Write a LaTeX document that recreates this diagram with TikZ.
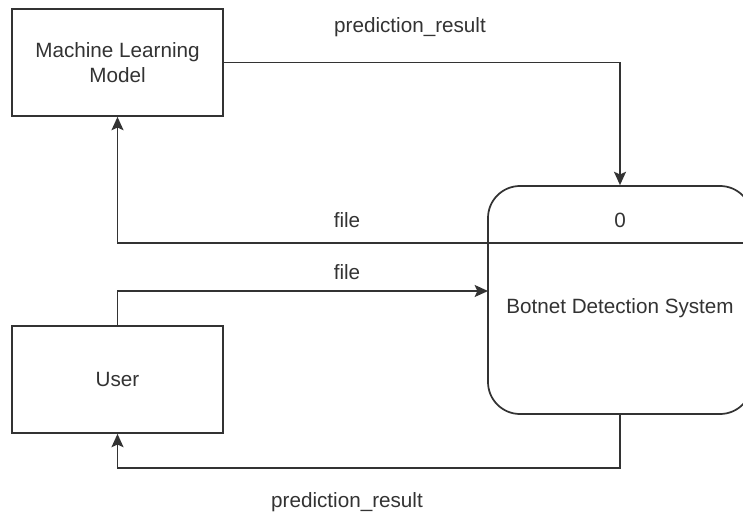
\documentclass[tikz,border=0pt]{standalone}
\usepackage{fontspec}
\setmainfont{Liberation Sans}
\usetikzlibrary{arrows.meta}
\definecolor{ink}{HTML}{333333}
\tikzset{
  entity/.style={draw=ink, line width=1.3pt, fill=white, minimum width=158.25pt, minimum height=80.25pt, inner sep=0pt},
  process/.style={draw=ink, line width=1.3pt, fill=white, rounded corners=24pt, minimum width=198pt, minimum height=171pt, inner sep=0pt},
  txt/.style={text=ink, font=\fontsize{15.5}{19}\selectfont, inner sep=0pt, align=center},
  flow/.style={draw=ink, line width=1.3pt, -{Stealth[length=10pt,width=9pt,inset=2pt]}},
  wire/.style={draw=ink, line width=1.3pt}
}
\begin{document}
\begin{tikzpicture}[x=0.75pt, y=-0.75pt]
  \useasboundingbox (0,0) rectangle (743,518);
  \clip (0,0) rectangle (743,518);
  \fill[white] (0,0) rectangle (743,518);

  % external entities
  \node[entity] (ml) at (117.5,62.5) {};
  \node[txt] (mltext) at (117.5,62.5) {Machine Learning\\Model};
  \node[entity] (user) at (117.5,379.5) {};
  \node[txt] (usertext) at (117.5,379) {User};

  % process
  \node[process] (bds) at (620,300) {};
  \coordinate (divL) at (488,243);
  \coordinate (divR) at (752,243);
  \draw[wire] (divL) -- (divR);
  \node[txt] (pid) at (620,220) {0};
  \node[txt] (pname) at (620,308) {Botnet Detection System};

  % data flows
  \coordinate (fileIn) at (488,291);
  \draw[flow] (ml.east) -| (bds.north);
  \draw[flow] (divL) -| (ml.south);
  \draw[flow] (user.north) |- (fileIn);
  \draw[flow] (bds.south) -- ++(0,53) -| (user.south);

  % flow labels
  \node[txt] (lbl1) at (410,27) {prediction\_result};
  \node[txt] (lbl2) at (347,220) {file};
  \node[txt] (lbl3) at (347,272) {file};
  \node[txt] (lbl4) at (347,502) {prediction\_result};
\end{tikzpicture}
\end{document}
